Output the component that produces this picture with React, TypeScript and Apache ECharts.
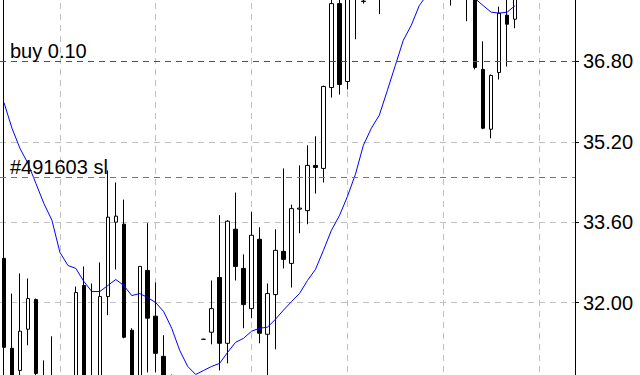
import React, { useEffect, useRef } from "react";
import * as echarts from "echarts";

// 72 bar slots on the time axis (65 candles drawn, the rest is right-hand empty space)
const categories: string[] = Array.from({ length: 72 }, (_, i) => String(i + 1));

const opens = [
  32.88, 31.09, 30.65, 31.47, 32.06, 30.40, 30.45, 30.40, 30.20, 30.40,
  32.34, 30.50, 30.50, 32.12, 33.60, 33.56, 31.45, 30.50, 32.64, 31.73,
  30.93, 30.50, 30.30, 30.35, 30.20, 31.27, 31.41, 32.50, 31.19, 33.46,
  32.68, 31.88, 33.26, 31.37, 32.16, 33.02, 32.78, 33.86, 33.83, 34.73,
  34.67, 36.28, 37.95, 36.40, 38.30, 37.99, 38.15, 38.30, 38.15, 38.35,
  38.55, 38.40, 38.60, 38.45, 38.30, 38.20, 38.30, 38.15, 38.25, 38.10,
  36.64, 35.45, 36.58, 37.72, 37.64,
];
const closes = [
  31.11, 30.35, 31.43, 32.08, 30.59, 30.30, 30.38, 30.20, 30.35, 32.20,
  30.45, 30.42, 32.12, 33.70, 33.72, 31.31, 30.50, 32.72, 31.69, 30.99,
  30.45, 30.40, 30.40, 30.15, 30.42, 31.27, 31.88, 31.19, 33.62, 32.72,
  31.96, 33.34, 31.39, 32.18, 33.04, 32.86, 33.87, 33.88, 34.73, 34.69,
  36.30, 37.95, 36.34, 38.07, 38.10, 38.00, 38.25, 38.15, 38.35, 38.55,
  38.40, 38.60, 38.45, 38.30, 38.20, 38.30, 38.15, 38.25, 38.10, 36.68,
  35.47, 36.52, 37.76, 37.54, 38.05,
];
const lows = [
  30.89, 30.21, 30.49, 31.15, 30.53, 30.20, 30.25, 30.10, 30.05, 30.30,
  30.35, 30.30, 30.40, 31.75, 32.66, 31.29, 30.40, 30.45, 30.61, 30.61,
  30.35, 30.30, 30.20, 30.05, 30.10, 31.26, 31.17, 30.65, 30.79, 32.44,
  31.49, 31.69, 31.19, 30.55, 31.07, 32.68, 32.30, 33.38, 33.56, 34.17,
  34.39, 36.08, 36.14, 36.24, 37.24, 37.95, 38.05, 37.74, 38.05, 38.20,
  38.30, 38.30, 38.35, 38.15, 38.05, 38.06, 37.91, 38.05, 37.60, 36.64,
  35.45, 35.27, 36.44, 36.70, 37.46,
];
const highs = [
  33.18, 32.18, 32.58, 32.48, 32.08, 30.85, 31.33, 30.50, 30.45, 32.32,
  32.72, 32.38, 32.80, 34.63, 34.39, 34.05, 31.49, 32.72, 33.58, 32.40,
  31.35, 30.57, 30.45, 30.40, 30.50, 31.28, 32.44, 33.74, 33.64, 34.19,
  32.96, 33.81, 33.50, 32.38, 33.46, 34.67, 33.95, 34.73, 35.13, 35.31,
  36.32, 38.11, 38.17, 38.21, 38.38, 38.20, 38.35, 38.45, 38.50, 38.60,
  38.70, 38.75, 38.80, 38.60, 38.45, 38.50, 38.40, 38.40, 38.35, 38.20,
  37.20, 36.54, 37.89, 38.05, 38.15,
];
const movingAverage = [
  35.98, 35.47, 35.07, 34.77, 34.37, 33.97, 33.64, 33.00, 32.74, 32.68,
  32.42, 32.22, 32.22, 32.34, 32.46, 32.34, 32.14, 32.18, 32.10, 32.00,
  31.82, 31.49, 31.05, 30.73, 30.57, 30.65, 30.73, 30.79, 31.01, 31.21,
  31.29, 31.43, 31.49, 31.51, 31.67, 31.85, 32.02, 32.18, 32.44, 32.66,
  33.04, 33.44, 33.73, 34.11, 34.55, 35.13, 35.47, 35.73, 36.22, 36.72,
  37.22, 37.52, 37.91, 38.13, 38.27, 38.35, 38.35, 38.27, 38.13, 38.05,
  37.91, 37.78, 37.76, 37.78, 37.91,
];
const yTicks = { min: 30.4, max: 38.4, step: 1.6 };
const buyLevel = 36.8;
const buyLabel = "buy 0.10";
const slLevel = 34.49;
const slLabel = "#491603 sl";

const FONT = "'Liberation Sans', Arial, Helvetica, sans-serif";

export default function App() {
  const ref = useRef<HTMLDivElement>(null);
  useEffect(() => {
    document.body.style.margin = "0";
    document.body.style.overflow = "hidden";
    document.documentElement.style.overflow = "hidden";
    const chart = echarts.init(ref.current!, null, { renderer: "svg" });
    const candleData = opens.map((o, i) => [o, closes[i], lows[i], highs[i]]);
    chart.setOption({
      animation: false,
      backgroundColor: "#ffffff",
      textStyle: { fontFamily: FONT },
      grid: { left: 0, right: 65, top: 0, bottom: 0, containLabel: false },
      xAxis: [
        {
          type: "category",
          data: categories,
          boundaryGap: true,
          axisLine: { show: false },
          axisTick: { show: false },
          axisLabel: { show: false },
          splitLine: {
            show: true,
            alignWithLabel: true,
            interval: (idx: number) => idx % 12 === 7,
            lineStyle: { color: "#c0c0c0", width: 1, type: [6, 5] },
          },
        },
      ],
      yAxis: [
        {
          type: "value",
          position: "right",
          min: yTicks.min,
          max: yTicks.max,
          interval: yTicks.step,
          axisLine: { show: true, lineStyle: { color: "#000", width: 1 } },
          axisTick: { show: true, length: 4, lineStyle: { color: "#000" } },
          axisLabel: {
            show: true,
            margin: 8,
            color: "#000",
            fontSize: 20,
            fontFamily: FONT,
            showMinLabel: false,
            showMaxLabel: false,
            formatter: (v: number) => v.toFixed(2),
          },
          splitLine: { show: true, lineStyle: { color: "#c0c0c0", width: 1, type: [6, 5] } },
        },
        {
          type: "value",
          position: "left",
          offset: -3,
          min: yTicks.min,
          max: yTicks.max,
          axisLine: { show: true, onZero: false, lineStyle: { color: "#000", width: 1 } },
          axisTick: { show: false },
          axisLabel: { show: false },
          splitLine: { show: false },
        },
      ],
      series: [
        {
          type: "candlestick",
          data: candleData,
          barWidth: 4,
          z: 2,
          itemStyle: {
            color: "#ffffff",
            color0: "#000000",
            borderColor: "#000000",
            borderColor0: "#000000",
            borderWidth: 1,
          },
          markLine: {
            symbol: ["none", "none"],
            silent: true,
            animation: false,
            label: {
              show: true,
              position: "insideStartTop",
              distance: [10, 0],
              color: "#000",
              fontSize: 20,
              fontFamily: FONT,
            },
            data: [
              {
                yAxis: buyLevel,
                lineStyle: { color: "#108010", width: 1, type: [6, 5] },
                label: { formatter: buyLabel },
              },
              {
                yAxis: slLevel,
                lineStyle: { color: "#f04a1a", width: 1, type: [6, 5] },
                label: { formatter: slLabel },
              },
            ],
          },
        },
        {
          type: "line",
          data: movingAverage,
          showSymbol: false,
          symbol: "none",
          z: 3,
          lineStyle: { color: "#0000ff", width: 1 },
        },
      ],
    });
    return () => chart.dispose();
  }, []);
  return (
    <div
      ref={ref}
      style={{ position: "fixed", left: 0, top: -19, width: 640, height: 402 }}
    />
  );
}
